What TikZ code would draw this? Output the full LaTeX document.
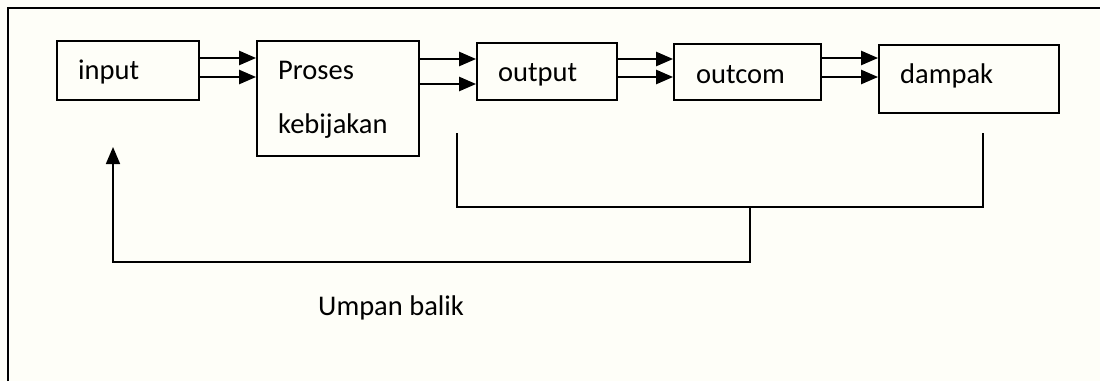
\documentclass[tikz,border=0pt]{standalone}
\usepackage{fontspec}
\setmainfont{Carlito}
\usetikzlibrary{arrows.meta}
\definecolor{paper}{RGB}{254,254,248}
\tikzset{
  box/.style={draw, line width=1.8pt, minimum width=#1, inner sep=0pt},
  lbl/.style={anchor=base west, inner sep=0pt, font=\fontsize{28.5}{30}\selectfont},
  tip/.style={-{Triangle[length=17pt,width=14pt]}},
  arr/.style={line width=2.4pt, tip},
  fb/.style={line width=1.8pt},
}
\begin{document}
\begin{tikzpicture}[x=1pt,y=-1pt]
\useasboundingbox (0,0) rectangle (1100,381);
\fill[paper] (0,0) rectangle (1100,381);
% frame
\draw[line width=1.8pt] (8,381) -- (8,8) -- (1100,8);
% boxes
\node[box=142pt, minimum height=59pt]  (in)  at (128,70.5) {};
\node[box=162pt, minimum height=115pt] (pk)  at (338,98.5) {};
\node[box=140pt, minimum height=57pt]  (out) at (547,71.5) {};
\node[box=147pt, minimum height=56pt]  (oc)  at (747.5,72) {};
\node[box=180pt, minimum height=68pt]  (dp)  at (969,79) {};
% labels
\node[lbl] (tin)  at (78,79)  {input};
\node[lbl] (tpk1) at (278,79) {Proses};
\node[lbl] (tpk2) at (278,133) {kebijakan};
\node[lbl] (tout) at (498,81) {output};
\node[lbl] (toc)  at (696,83) {outcom};
\node[lbl] (tdp)  at (900,83) {dampak};
\node[lbl] (tfb)  at (318,315) {Umpan balik};
% double arrows
\draw[arr] (in.east |- 0,58) -- (pk.west |- 0,58);
\draw[arr] (in.east |- 0,77) -- (pk.west |- 0,77);
\draw[arr] (pk.east |- 0,59) -- (out.west |- 0,59);
\draw[arr] (pk.east |- 0,84) -- (out.west |- 0,84);
\draw[arr] (out.east |- 0,59) -- (oc.west |- 0,59);
\draw[arr] (out.east |- 0,77) -- (oc.west |- 0,77);
\draw[arr] (oc.east |- 0,58) -- (dp.west |- 0,58);
\draw[arr] (oc.east |- 0,77) -- (dp.west |- 0,77);
% feedback bracket and return path
\coordinate (bl) at (457,133);
\coordinate (br) at (983,133);
\coordinate (bm) at (750,207);
\coordinate (ret) at (113,147);
\draw[fb] (bl) |- (br |- bm) -- (br);
\draw[fb, tip] (bm) -- (bm |- 0,262) -| (ret);
\end{tikzpicture}
\end{document}
